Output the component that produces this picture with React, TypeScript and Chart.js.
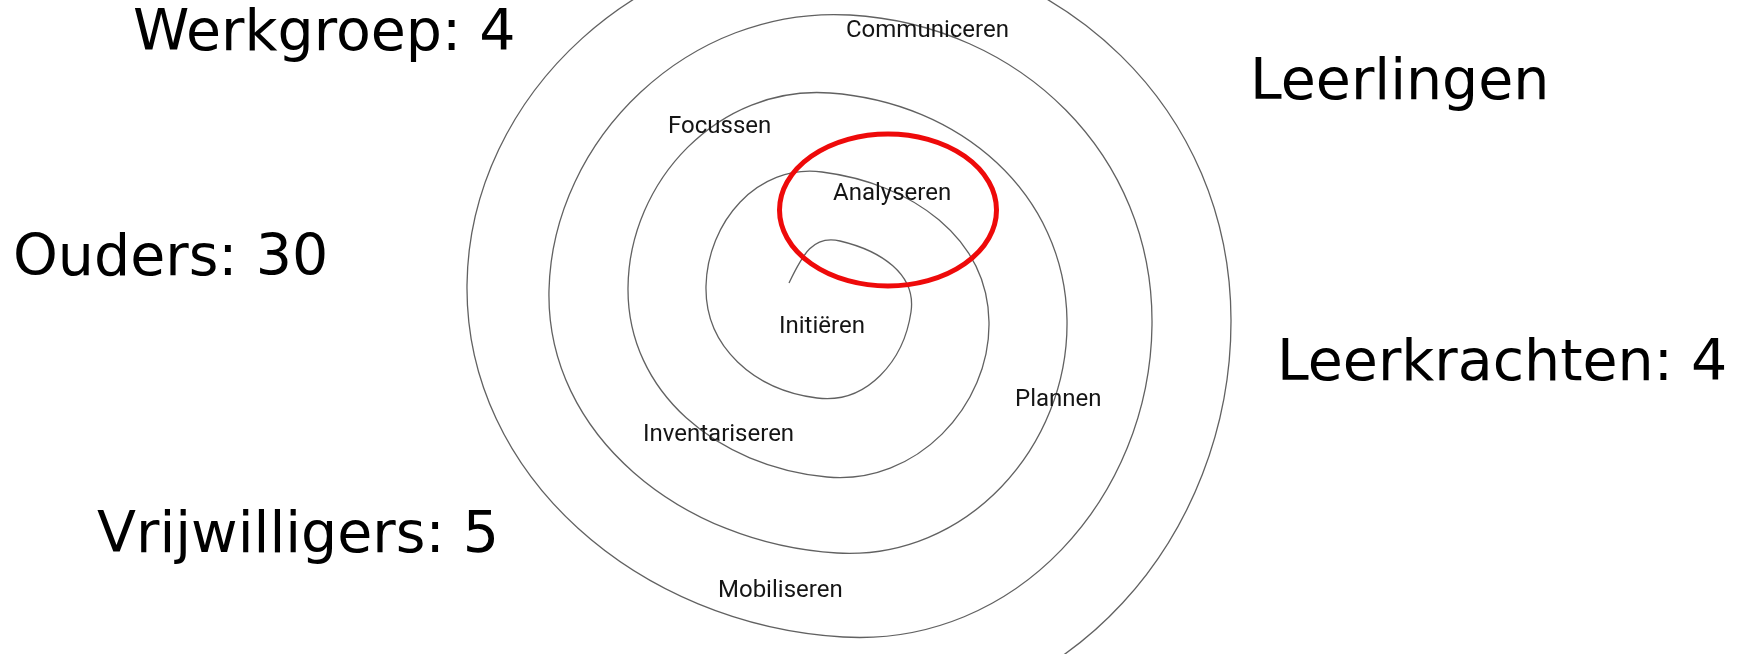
import React, { useEffect, useRef } from "react";
import { Chart, registerables } from "chart.js";

Chart.register(...registerables);

// Spiral path (pixel-like units, y grows downward), from the centre outward:
// a hidden lead-in point, the start tip, then the top / right / bottom / left extreme of each turn,
// and a hidden closing point that only steers the curve of the last visible turn.
const spiralX = [795, 789, 840, 911, 817, 706, 822, 989, 827, 628, 830, 1067, 837, 549, 850, 1152, 843, 467, 850, 1231, 852, 388];
const spiralY = [335, 283, 241, 312, 398, 286, 172, 322, 477, 288, 93, 320, 553, 290, 15, 325, 637, 285, -58, 320, 718, 288];
const hiddenSegmentsAtStart = 1;
const hiddenSegmentsAtEnd = 1;

// Phase labels on the spiral
const phaseLabels = ["Communiceren", "Focussen", "Analyseren", "Initiëren", "Plannen", "Inventariseren", "Mobiliseren"];
const phaseX = [846, 668, 833, 779, 1015, 643, 718];
const phaseY = [37, 133, 200, 333, 406, 441, 597];

// Participant group labels
const groupLabels = ["Werkgroep: 4", "Ouders: 30", "Leerlingen", "Leerkrachten: 4", "Vrijwilligers: 5"];
const groupX = [133, 13, 1250, 1277, 97];
const groupY = [50, 275, 99, 380, 552];

// Highlight ellipse (centre and radii)
const highlightCenter = [888, 210];
const highlightRadii = [108.5, 76];

const W = 1742;
const H = 654;
const SPIRAL_COLOR = "rgba(75,75,75,0.88)";

const overlayPlugin = {
  id: "overlay",
  afterDatasetsDraw(chart: any) {
    const { ctx, scales } = chart;
    const xs = scales.x;
    const ys = scales.y;
    ctx.save();
    const cx = xs.getPixelForValue(highlightCenter[0]);
    const cy = ys.getPixelForValue(highlightCenter[1]);
    const rx = Math.abs(xs.getPixelForValue(highlightCenter[0] + highlightRadii[0]) - cx);
    const ry = Math.abs(ys.getPixelForValue(highlightCenter[1] + highlightRadii[1]) - cy);
    ctx.beginPath();
    ctx.ellipse(cx, cy, rx, ry, 0, 0, Math.PI * 2);
    ctx.strokeStyle = "#ee0a0a";
    ctx.lineWidth = 5;
    ctx.stroke();

    ctx.fillStyle = "#151515";
    ctx.textAlign = "left";
    ctx.textBaseline = "alphabetic";
    ctx.font = "24px Roboto";
    phaseLabels.forEach((t, i) => {
      ctx.fillText(t, xs.getPixelForValue(phaseX[i]), ys.getPixelForValue(phaseY[i]));
    });

    ctx.fillStyle = "#000000";
    ctx.font = "57px 'DejaVu Sans'";
    groupLabels.forEach((t, i) => {
      ctx.fillText(t, xs.getPixelForValue(groupX[i]), ys.getPixelForValue(groupY[i]));
    });
    ctx.restore();
  },
};

export default function App() {
  const ref = useRef<HTMLCanvasElement | null>(null);
  useEffect(() => {
    if (!ref.current) return;
    const data = spiralX.map((x, i) => ({ x, y: spiralY[i] }));
    const lastSeg = spiralX.length - 1 - hiddenSegmentsAtEnd;
    const chart = new Chart(ref.current, {
      type: "scatter",
      data: {
        datasets: [
          {
            label: "Spiraal",
            data,
            showLine: true,
            borderColor: SPIRAL_COLOR,
            borderWidth: 1.3,
            pointRadius: 0,
            tension: 0.55,
            fill: false,
            segment: {
              borderColor: (c: any) =>
                c.p0DataIndex < hiddenSegmentsAtStart || c.p0DataIndex >= lastSeg ? "rgba(0,0,0,0)" : SPIRAL_COLOR,
            },
          } as any,
        ],
      },
      options: {
        animation: false,
        responsive: false,
        maintainAspectRatio: false,
        layout: { padding: 0 },
        elements: { line: { capBezierPoints: false } },
        plugins: { legend: { display: false }, tooltip: { enabled: false } },
        scales: {
          x: { type: "linear", min: 0, max: W, display: false },
          y: { type: "linear", min: 0, max: H, reverse: true, display: false },
        },
      },
      plugins: [overlayPlugin],
    });
    return () => chart.destroy();
  }, []);
  return (
    <div style={{ position: "absolute", left: 0, top: 0, width: W, height: H, background: "#fff" }}>
      <canvas ref={ref} width={W} height={H} style={{ width: W, height: H, display: "block" }} />
    </div>
  );
}
